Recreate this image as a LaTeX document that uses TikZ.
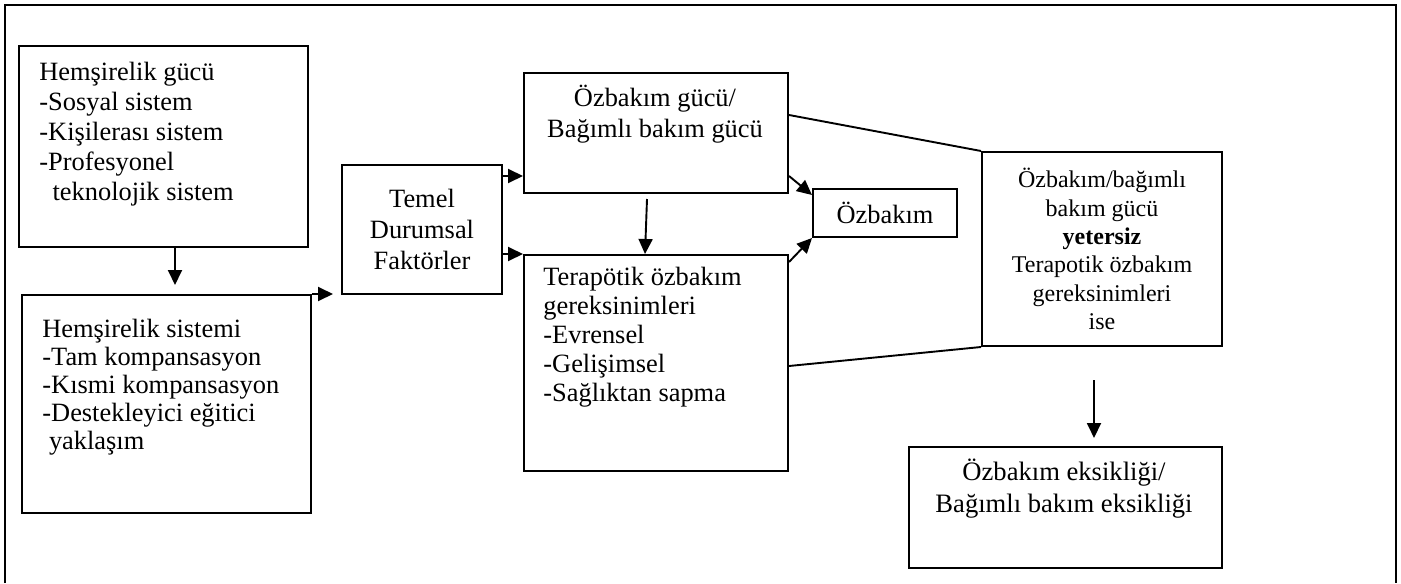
\documentclass[tikz,border=0pt]{standalone}
\usepackage{fontspec}
\setmainfont{Liberation Serif}
\usetikzlibrary{arrows.meta,positioning,calc}

\begin{document}
\begin{tikzpicture}[x=0.5pt,y=-0.5pt,
  every node/.style={inner sep=0pt},
  box/.style={draw,line width=1pt},
  txt/.style={align=left,font=\fontsize{13.2}{15}\selectfont},
  ctxt/.style={align=center,font=\fontsize{13.2}{15.5}\selectfont},
  arrow/.style={-{Triangle[length=7.5pt,width=7pt]},line width=0.95pt},
  link/.style={line width=0.95pt}]
  \useasboundingbox (0,0) rectangle (1401,583);
  \draw[line width=1pt] (5,583) -- (5,5) -- (1396,5) -- (1396,583);
  % boxes
  \node[box,anchor=north west,minimum width=144.5pt,minimum height=100.5pt] (gucu) at (18,45) {};
  \node[box,anchor=north west,minimum width=144.5pt,minimum height=109pt] (sistem) at (21,294) {};
  \node[box,anchor=north west,minimum width=80pt,minimum height=64.5pt,ctxt] (temel) at (341,164) {Temel\\Durumsal\\Faktörler};
  \node[box,anchor=north west,minimum width=132pt,minimum height=60pt] (ozgucu) at (523,72) {};
  \node[box,minimum width=132pt,minimum height=108pt,below=30pt of ozgucu.south west,anchor=north west] (terap) {};
  \node[box,anchor=north west,minimum width=72pt,minimum height=24pt,ctxt] (ozbakim) at (812,188) {Özbakım};
  \node[box,anchor=north west,minimum width=120pt,minimum height=97pt,align=center,
    font=\fontsize{12}{14.15}\selectfont] (yetersiz) at (981,151)
    {Özbakım/bağımlı\\bakım gücü\\\textbf{yetersiz}\\Terapotik özbakım\\gereksinimleri\\ise};
  \node[box,anchor=north west,minimum width=156.5pt,minimum height=60.5pt] (eksik) at (908,446) {};
  % texts (anchored at the last baseline)
  \node[txt,anchor=base west] (gucuT) at (39,200.7)
    {Hemşirelik gücü\\-Sosyal sistem\\-Kişilerası sistem\\-Profesyonel\\\hspace*{6.6pt}teknolojik sistem};
  \node[txt,anchor=base west,font=\fontsize{13.2}{14.1}\selectfont] (sistemT) at (42,449.8)
    {Hemşirelik sistemi\\-Tam kompansasyon\\-Kısmi kompansasyon\\-Destekleyici eğitici\\\hspace*{3.3pt}yaklaşım};
  \node[txt,anchor=base west,font=\fontsize{13.2}{14.5}\selectfont] (terapT) at (543,401)
    {Terapötik özbakım\\gereksinimleri\\-Evrensel\\-Gelişimsel\\-Sağlıktan sapma};
  \node[ctxt,anchor=base] (ozgucuT) at (655,137) {Özbakım gücü/\\Bağımlı bakım gücü};
  \node[ctxt,anchor=base,font=\fontsize{13.3}{16.4}\selectfont] (eksikT) at (1064,512.8)
    {Özbakım eksikliği/\\Bağımlı bakım eksikliği};
  % connectors
  \draw[arrow,shorten >=4.5pt] ([xshift=5.75pt]gucu.south) -- ([xshift=5.75pt]gucu.south |- sistem.north);
  \draw[arrow,shorten >=4pt] (sistem.north east) -- (sistem.north east -| temel.west);
  \draw[arrow] ([yshift=9pt]ozgucu.south west -| temel.east) -- ([yshift=9pt]ozgucu.south west);
  \draw[arrow] (terap.north west -| temel.east) -- (terap.north west);
  \draw[arrow] ([xshift=-4.5pt,yshift=-2.5pt]ozgucu.south) -- ([xshift=-5.5pt]terap.north);
  \draw[arrow] ([yshift=9pt]ozgucu.south east) -- ([yshift=-3.5pt]ozbakim.north west);
  \draw[arrow] ([yshift=-4pt]terap.north east) -- (ozbakim.south west);
  \draw[link] ([yshift=-21.5pt]ozgucu.north east) -- (yetersiz.north west);
  \draw[link] ([yshift=-56pt]terap.north east) -- (yetersiz.south west);
  \draw[arrow,shorten >=4pt] ([xshift=-4pt,yshift=-16.5pt]yetersiz.south) -- ([xshift=-4pt]yetersiz.south |- eksik.north);
\end{tikzpicture}
\end{document}
